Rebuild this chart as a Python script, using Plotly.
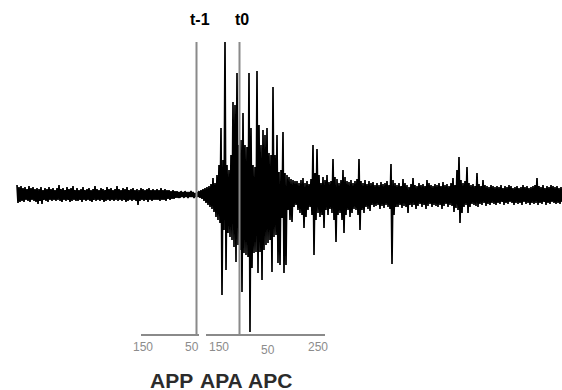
import plotly.graph_objects as go

# ---------------- data ----------------
# signal sampled as per-column peak (hi) / trough (lo) amplitudes, one column every 2 ms
t_first = 17
col_step = 2
hi = [
    10, 8, 9, 7, 8, 6, 9, 7, 8, 6,
    7, 6, 8, 5, 7, 6, 8, 6, 7, 5,
    7, 10, 6, 7, 5, 8, 6, 7, 9, 5,
    7, 5, 6, 8, 5, 6, 7, 5, 6, 9,
    6, 5, 7, 6, 5, 8, 6, 7, 5, 6,
    9, 6, 5, 7, 6, 8, 5, 6, 7, 5,
    6, 5, 7, 6, 5, 6, 7, 5, 6, 5,
    6, 5, 7, 5, 6, 5, 5, 4, 5, 4,
    4, 3, 4, 3, 4, 3, 3, 4, 3, 2,
    3, 4, 5, 6, 7, 8, 9, 11, 17, 12,
    20, 30, 67, 35, 153, 30, 25, 40, 93, 90,
    122, 50, 55, 82, 50, 48, 122, 67, 30, 28,
    124, 70, 50, 65, 60, 67, 42, 40, 108, 40,
    60, 23, 25, 63, 22, 20, 18, 16, 15, 14,
    14, 12, 15, 17, 12, 14, 11, 16, 50, 22,
    46, 20, 12, 18, 15, 20, 13, 14, 36, 18,
    16, 12, 15, 25, 18, 14, 13, 15, 12, 14,
    16, 36, 14, 12, 15, 11, 14, 12, 13, 10,
    12, 10, 13, 11, 12, 14, 10, 31, 15, 12,
    10, 12, 9, 16, 12, 10, 8, 11, 17, 10,
    9, 12, 10, 11, 9, 15, 12, 10, 9, 11,
    10, 12, 9, 13, 10, 11, 9, 12, 17, 10,
    25, 38, 15, 12, 14, 28, 12, 10, 11, 9,
    22, 11, 9, 15, 10, 9, 8, 10, 9, 8,
    9, 8, 10, 7, 9, 8, 10, 9, 7, 8,
    9, 7, 8, 10, 8, 9, 7, 8, 9, 10,
    17, 9, 8, 10, 7, 9, 8, 10, 9, 8,
    9, 7, 8,
]
lo = [
    -8, -7, -6, -7, -5, -6, -7, -5, -6, -7,
    -9, -6, -9, -5, -6, -7, -5, -6, -5, -6,
    -5, -6, -7, -5, -6, -5, -7, -6, -5, -6,
    -6, -5, -7, -5, -6, -5, -6, -7, -5, -6,
    -5, -6, -5, -7, -6, -5, -6, -5, -6, -5,
    -6, -5, -6, -5, -7, -6, -5, -6, -5, -6,
    -10, -6, -5, -6, -5, -7, -5, -6, -5, -5,
    -5, -6, -5, -5, -6, -4, -5, -4, -4, -3,
    -3, -3, -2, -3, -2, -3, -2, -2, -3, -2,
    -2, -3, -4, -6, -8, -10, -12, -14, -17, -22,
    -25, -28, -100, -35, -75, -38, -42, -45, -52, -67,
    -50, -55, -97, -58, -60, -62, -137, -73, -58, -57,
    -78, -57, -85, -55, -50, -48, -45, -77, -42, -40,
    -68, -70, -23, -78, -70, -15, -25, -27, -12, -10,
    -15, -18, -20, -33, -22, -15, -12, -20, -60, -25,
    -18, -22, -20, -33, -15, -20, -14, -18, -25, -47,
    -20, -18, -25, -38, -20, -15, -22, -18, -14, -15,
    -20, -35, -15, -18, -12, -14, -16, -10, -12, -11,
    -10, -14, -11, -13, -10, -12, -14, -69, -20, -12,
    -12, -10, -13, -11, -12, -18, -10, -12, -10, -14,
    -11, -9, -12, -10, -14, -11, -9, -12, -10, -11,
    -12, -10, -14, -11, -9, -12, -10, -11, -17, -13,
    -15, -28, -18, -12, -10, -18, -12, -9, -10, -11,
    -12, -9, -10, -8, -11, -9, -10, -8, -9, -10,
    -8, -9, -7, -10, -8, -9, -7, -8, -10, -8,
    -9, -8, -10, -7, -9, -8, -10, -8, -9, -8,
    -10, -8, -9, -7, -10, -8, -9, -7, -8, -9,
    -8, -9, -7,
]

marker_times = [196.5, 239.5]          # t-1, t0
marker_labels = ["t-1", "t0"]
marker_top, marker_bottom = 153, -140

tick_times = [143, 192, 219, 268, 318]
tick_text = ["150", "50", "150", "50", "250"]

phase_names = ["APP", "APA", "APC"]
phase_centers = [171, 221.5, 270]

# ---------------- figure ----------------
xs, ys = [], []
for i, (h, l) in enumerate(zip(hi, lo)):
    t = t_first + i * col_step
    xs += [t, t + 1]
    ys += [h, l]

fig = go.Figure()
fig.add_trace(go.Scatter(x=xs, y=ys, mode="lines",
                         line=dict(color="black", width=1.7),
                         hoverinfo="skip", showlegend=False))

GRAY = "#8a8a8a"
axis_y = marker_bottom
for seg in [(141, 199), (206, 325)]:
    fig.add_trace(go.Scatter(x=list(seg), y=[axis_y, axis_y], mode="lines",
                             line=dict(color=GRAY, width=2),
                             hoverinfo="skip", showlegend=False))

for tm in marker_times:
    fig.add_trace(go.Scatter(x=[tm, tm], y=[marker_top, marker_bottom], mode="lines",
                             line=dict(color=GRAY, width=2),
                             hoverinfo="skip", showlegend=False))

ann = []
for tm, lab, dx in zip(marker_times, marker_labels, [3, 2.5]):
    ann.append(dict(x=tm + dx, y=176, text=f"<b>{lab}</b>", showarrow=False,
                    xanchor="center", yanchor="middle",
                    font=dict(family="Liberation Sans, Arial", size=16, color="black")))
for tt, txt, dy in zip(tick_times, tick_text, [0, 0, 0, -3, 0]):
    ann.append(dict(x=tt, y=-152 + dy, text=txt, showarrow=False,
                    xanchor="center", yanchor="middle",
                    font=dict(family="Liberation Sans, Arial", size=12, color="#8c8c8c")))
for c, name in zip(phase_centers, phase_names):
    ann.append(dict(x=c, y=-185, text=f"<b>{name}</b>", showarrow=False,
                    xanchor="center", yanchor="middle",
                    font=dict(family="Liberation Sans, Arial", size=21, color="#2b2b2b")))

fig.update_layout(
    width=562, height=390,
    margin=dict(l=0, r=0, t=0, b=0),
    paper_bgcolor="white", plot_bgcolor="white",
    xaxis=dict(range=[0, 562], visible=False, fixedrange=True),
    yaxis=dict(range=[-195, 195], visible=False, fixedrange=True),
    annotations=ann,
    showlegend=False,
)

fig.write_html("out.html")
